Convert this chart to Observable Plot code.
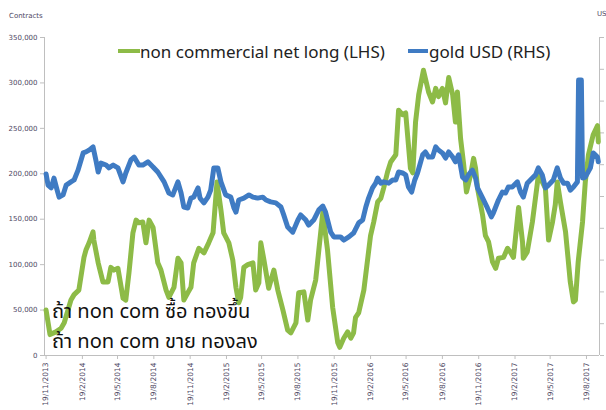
<!DOCTYPE html>
<html><head><meta charset="utf-8">
<script src="https://cdn.jsdelivr.net/npm/d3@7"></script>
<script src="https://cdn.jsdelivr.net/npm/@observablehq/plot@0.6"></script>
<style>
html,body{margin:0;padding:0;background:#fff;overflow:hidden;}
#chart{position:relative;width:606px;height:410px;}
</style></head><body><div id="chart"></div>
<script>
// ---- data ----
const nclDates = ["2013-11-19","2013-11-29","2013-12-14","2013-12-27","2014-01-04","2014-01-21","2014-01-29","2014-02-10","2014-02-23","2014-02-28","2014-03-08","2014-03-18","2014-03-20","2014-03-31","2014-04-12","2014-04-25","2014-05-02","2014-05-10","2014-05-20","2014-06-02","2014-06-09","2014-06-17","2014-06-27","2014-07-05","2014-07-12","2014-07-22","2014-07-30","2014-08-07","2014-08-17","2014-08-29","2014-09-06","2014-09-19","2014-09-26","2014-10-09","2014-10-19","2014-10-27","2014-11-03","2014-11-13","2014-11-21","2014-11-28","2014-12-11","2014-12-24","2015-01-05","2015-01-16","2015-01-26","2015-02-05","2015-02-12","2015-02-25","2015-03-07","2015-03-15","2015-03-22","2015-03-27","2015-04-04","2015-04-14","2015-04-27","2015-05-04","2015-05-12","2015-05-17","2015-05-25","2015-06-06","2015-06-19","2015-06-29","2015-07-12","2015-07-24","2015-08-01","2015-08-14","2015-08-21","2015-09-03","2015-09-13","2015-09-20","2015-10-03","2015-10-11","2015-10-21","2015-11-02","2015-11-15","2015-11-28","2015-12-03","2015-12-13","2015-12-23","2015-12-31","2016-01-07","2016-01-12","2016-01-20","2016-02-02","2016-02-19","2016-02-27","2016-03-08","2016-03-16","2016-03-23","2016-04-02","2016-04-10","2016-04-23","2016-04-30","2016-05-10","2016-05-18","2016-05-30","2016-06-05","2016-06-12","2016-06-20","2016-07-02","2016-07-15","2016-07-25","2016-08-02","2016-08-09","2016-08-19","2016-08-27","2016-09-04","2016-09-14","2016-09-21","2016-09-26","2016-10-04","2016-10-12","2016-10-19","2016-10-29","2016-11-06","2016-11-11","2016-11-16","2016-11-29","2016-12-06","2016-12-14","2016-12-24","2017-01-01","2017-01-08","2017-01-21","2017-01-31","2017-02-07","2017-02-15","2017-02-28","2017-03-10","2017-03-12","2017-03-22","2017-04-04","2017-04-17","2017-04-19","2017-04-29","2017-05-07","2017-05-15","2017-05-25","2017-06-01","2017-06-06","2017-06-14","2017-06-27","2017-07-09","2017-07-17","2017-07-22","2017-07-29","2017-08-09","2017-08-16","2017-08-24","2017-09-05","2017-09-16","2017-09-18"];
const nclValues = [50000,23000,26000,30000,36000,61000,67000,72000,108000,116000,124000,136000,127000,102000,81000,81000,97000,94000,96000,63000,61000,91000,135000,149000,146000,147000,124000,149000,141000,102000,94000,72000,64000,75000,107000,102000,61000,69000,75000,102000,118000,113000,124000,135000,191000,160000,135000,124000,105000,75000,58000,64000,97000,100000,102000,72000,80000,124000,105000,74000,94000,72000,50000,28000,25000,36000,69000,70000,39000,61000,83000,116000,157000,116000,53000,14000,9000,19000,26000,19000,25000,42000,47000,72000,132000,147000,169000,173000,184000,202000,213000,221000,270000,265000,267000,206000,201000,257000,287000,314000,290000,279000,294000,285000,294000,278000,306000,287000,257000,290000,239000,210000,180000,198000,217000,206000,184000,154000,132000,125000,103000,96000,107000,108000,118000,114000,108000,163000,125000,107000,114000,147000,191000,199000,191000,184000,127000,147000,166000,191000,169000,136000,81000,59000,61000,103000,147000,191000,221000,243000,253000,235000];

const goldDates = ["2013-11-19","2013-11-24","2013-12-02","2013-12-09","2013-12-17","2013-12-22","2014-01-01","2014-01-09","2014-01-21","2014-01-29","2014-02-08","2014-02-21","2014-02-28","2014-03-08","2014-03-18","2014-03-26","2014-03-31","2014-04-07","2014-04-20","2014-04-27","2014-05-08","2014-05-20","2014-06-02","2014-06-09","2014-06-22","2014-06-30","2014-07-12","2014-07-22","2014-08-04","2014-08-17","2014-08-29","2014-09-14","2014-09-26","2014-10-06","2014-10-19","2014-10-27","2014-11-03","2014-11-13","2014-11-21","2014-11-28","2014-12-09","2014-12-14","2014-12-24","2015-01-03","2015-01-10","2015-01-18","2015-01-28","2015-02-05","2015-02-17","2015-03-02","2015-03-10","2015-03-15","2015-03-22","2015-04-04","2015-04-17","2015-04-27","2015-05-09","2015-05-22","2015-05-30","2015-06-11","2015-06-24","2015-07-07","2015-07-14","2015-07-24","2015-08-06","2015-08-19","2015-08-26","2015-09-08","2015-09-15","2015-09-28","2015-10-11","2015-10-21","2015-10-28","2015-11-10","2015-11-18","2015-12-05","2015-12-13","2015-12-26","2016-01-07","2016-01-20","2016-01-30","2016-02-07","2016-02-14","2016-02-24","2016-03-03","2016-03-08","2016-03-16","2016-03-23","2016-04-05","2016-04-15","2016-04-23","2016-04-30","2016-05-10","2016-05-18","2016-05-25","2016-06-02","2016-06-10","2016-06-17","2016-06-30","2016-07-07","2016-07-15","2016-07-25","2016-08-02","2016-08-09","2016-08-19","2016-08-27","2016-09-04","2016-09-14","2016-09-21","2016-09-29","2016-10-09","2016-10-17","2016-10-24","2016-11-03","2016-11-11","2016-11-16","2016-11-29","2016-12-11","2016-12-21","2016-12-26","2017-01-08","2017-01-18","2017-01-26","2017-02-02","2017-02-12","2017-02-25","2017-03-05","2017-03-12","2017-03-22","2017-03-30","2017-04-12","2017-04-19","2017-04-29","2017-05-07","2017-05-15","2017-05-27","2017-06-06","2017-06-14","2017-06-22","2017-07-02","2017-07-09","2017-07-17","2017-07-27","2017-07-30","2017-08-06","2017-08-09","2017-08-16","2017-08-29","2017-09-05","2017-09-16","2017-09-18"];
const goldValues = [1271,1236,1227,1258,1220,1198,1205,1236,1246,1252,1283,1337,1340,1346,1356,1309,1277,1305,1299,1290,1299,1290,1246,1274,1315,1324,1299,1299,1309,1293,1277,1246,1211,1205,1246,1211,1167,1164,1195,1198,1227,1195,1180,1198,1220,1290,1290,1246,1205,1198,1164,1151,1189,1195,1205,1198,1195,1198,1189,1183,1180,1167,1142,1104,1088,1126,1142,1126,1110,1126,1158,1170,1151,1088,1073,1073,1063,1073,1085,1117,1126,1167,1195,1227,1242,1258,1242,1246,1242,1252,1252,1277,1274,1268,1230,1214,1252,1274,1331,1340,1324,1324,1356,1346,1337,1321,1340,1324,1309,1331,1261,1252,1268,1283,1258,1227,1195,1164,1136,1148,1189,1214,1211,1230,1230,1246,1214,1198,1242,1252,1268,1290,1268,1227,1236,1252,1290,1258,1242,1242,1220,1230,1246,1566,1566,1258,1261,1290,1337,1324,1309];

const xTickLabels = ["19/11/2013","19/2/2014","19/5/2014","19/8/2014","19/11/2014","19/2/2015","19/5/2015","19/8/2015","19/11/2015","19/2/2016","19/5/2016","19/8/2016","19/11/2016","19/2/2017","19/5/2017","19/8/2017"];
const yTicks = [0,50000,100000,150000,200000,250000,300000,350000];
const goldTicks = [700,800,900,1000,1100,1200,1300,1400,1500,1600,1700];
const seriesNames = ["non commercial net long (LHS)","gold USD (RHS)"];
const seriesColors = ["#8dbb47","#3f7bc3"];
const leftAxisTitle = "Contracts";
const rightAxisTitle = "USD";
const noteLines = ["ถ้า non com ซื้อ ทองขึ้น","ถ้า non com ขาย ทองลง"];

// ---- build ----
const parse = d3.utcParse("%Y-%m-%d");
const parseTick = d3.utcParse("%d/%m/%Y");
const fmtTick = d3.utcFormat("%-d/%-m/%Y");
const yMax = yTicks[yTicks.length-1];
const gMin = goldTicks[0], gMax = goldTicks[goldTicks.length-1];
const toLeft = g => (g - gMin) / (gMax - gMin) * yMax;

const ncl = nclDates.map((d,i)=>({date: parse(d), value: nclValues[i]}));
const gold = goldDates.map((d,i)=>({date: parse(d), value: toLeft(goldValues[i])}));
const tickDates = xTickLabels.map(parseTick);
const xDomain = [parse("2013-11-15"), parse("2017-09-21")];

const axisGray = "#bfbfbf";
const labelColor = "#4e4763";

const chart = Plot.plot({
  width: 606, height: 410,
  marginLeft: 44, marginRight: 7, marginTop: 37, marginBottom: 55,
  style: {fontFamily: "DejaVu Sans", fontSize: "7px", background: "#fff"},
  x: {type: "utc", domain: xDomain},
  y: {domain: [0, yMax]},
  marks: [
    Plot.ruleX([xDomain[0]], {stroke: axisGray}),
    Plot.ruleX([xDomain[1]], {stroke: axisGray}),
    Plot.ruleY([0], {stroke: axisGray}),
    Plot.axisY({ticks: yTicks, tickFormat: d3.format(","), tickSize: 4, tickPadding: 3, label: null, color: labelColor, stroke: axisGray}),
    Plot.axisY({anchor: "right", ticks: goldTicks.map(toLeft), tickFormat: () => "", tickSize: 4, label: null, stroke: axisGray}),
    Plot.axisX({ticks: tickDates, tickFormat: fmtTick, tickRotate: -90, tickSize: 4, tickPadding: 3, fontSize: 7.5, label: null, color: labelColor, stroke: axisGray}),
    Plot.line(ncl, {x: "date", y: "value", stroke: seriesColors[0], strokeWidth: 5}),
    Plot.line(gold, {x: "date", y: "value", stroke: seriesColors[1], strokeWidth: 5})
  ]
});
document.getElementById("chart").appendChild(chart);

const svg = d3.select(chart);
const addText = (x, y, txt, family, size, fill) =>
  svg.append("text").attr("x", x).attr("y", y).attr("text-anchor", "start")
    .attr("font-family", family).attr("font-size", size).attr("fill", fill).text(txt);

addText(9, 18, leftAxisTitle, "DejaVu Sans", 7, labelColor);
addText(597, 16, rightAxisTitle, "DejaVu Sans", 7, labelColor);

// legend
const leg = [{x0:118, x1:140, tx:140}, {x0:408, x1:428, tx:429}];
leg.forEach((l,i)=>{
  svg.append("line").attr("x1", l.x0).attr("x2", l.x1).attr("y1", 51).attr("y2", 51)
    .attr("stroke", seriesColors[i]).attr("stroke-width", 4);
  addText(l.tx, 57.5, seriesNames[i], "Noto Sans", 17, "#222");
});

// Thai notes
noteLines.forEach((t,i)=>{
  addText(52, 318 + i*30, t, "Noto Sans, 'Noto Sans Thai', Loma, Garuda, sans-serif", 20, "#111");
});
</script></body></html>
